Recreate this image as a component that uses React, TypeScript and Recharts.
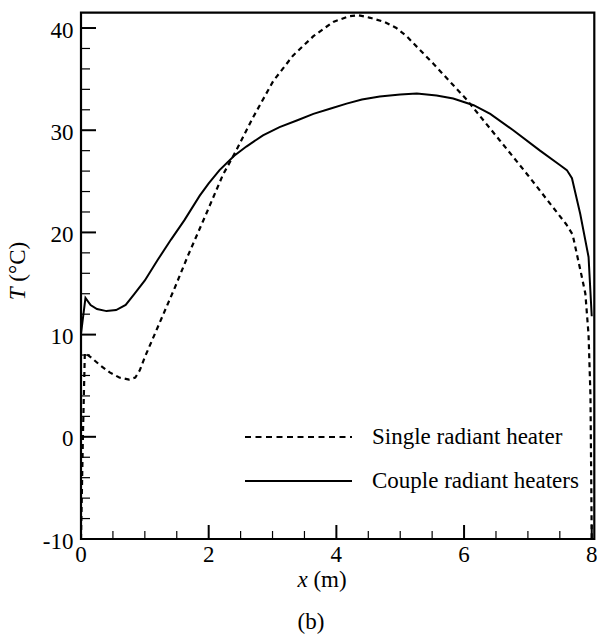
import React from 'react';
import { LineChart, Line, XAxis, YAxis, ReferenceArea } from 'recharts';

const singleX = [0, 0.03, 0.06, 0.15, 0.3, 0.45, 0.6, 0.75, 0.85, 0.92, 1.0, 1.2, 1.47, 1.68, 1.96, 2.22, 2.43, 2.69, 3.01, 3.32, 3.64, 3.95, 4.2, 4.35, 4.53, 4.75, 4.94, 5.1, 5.52, 6.04, 6.56, 7.0, 7.3, 7.6, 7.7, 7.78, 7.85, 7.9, 7.95, 7.98, 8.0];
const singleT = [-10, 0, 8.2, 7.8, 7.0, 6.3, 5.8, 5.6, 5.8, 6.5, 7.8, 10.7, 14.6, 17.8, 21.8, 25.6, 28.0, 31.2, 34.8, 37.3, 39.2, 40.6, 41.15, 41.25, 41.0, 40.6, 40.0, 39.2, 36.5, 33.0, 29.0, 25.6, 23.2, 20.8, 19.8, 17.5, 15.5, 14.0, 10.0, 4.0, -10];

const coupleX = [0, 0.07, 0.15, 0.25, 0.4, 0.55, 0.7, 0.84, 1.0, 1.2, 1.41, 1.62, 1.86, 2.0, 2.17, 2.4, 2.59, 2.85, 3.11, 3.4, 3.64, 3.9, 4.16, 4.4, 4.68, 5.0, 5.26, 5.57, 5.83, 6.15, 6.41, 6.77, 7.19, 7.5, 7.61, 7.69, 7.82, 7.95, 8.0];
const coupleT = [10.1, 13.6, 12.9, 12.5, 12.3, 12.4, 12.9, 14.0, 15.3, 17.3, 19.3, 21.2, 23.6, 24.8, 26.1, 27.5, 28.4, 29.5, 30.3, 31.0, 31.6, 32.1, 32.6, 33.0, 33.3, 33.5, 33.6, 33.4, 33.1, 32.45, 31.6, 30.0, 28.0, 26.6, 26.1, 25.3, 21.8, 17.6, 11.8];

const xTicks = [0, 0.5, 1, 1.5, 2, 2.5, 3, 3.5, 4, 4.5, 5, 5.5, 6, 6.5, 7, 7.5, 8];
const xLabelTicks = [0, 2, 4, 6, 8];
const yTicks = [-10, -8, -6, -4, -2, 0, 2, 4, 6, 8, 10, 12, 14, 16, 18, 20, 22, 24, 26, 28, 30, 32, 34, 36, 38, 40];
const yLabelTicks = [-10, 0, 10, 20, 30, 40];

const seriesNames = ['Single radiant heater', 'Couple radiant heaters'];

const singleData = singleX.map((x, i) => ({ x, T: singleT[i] }));
const coupleData = coupleX.map((x, i) => ({ x, T: coupleT[i] }));

const FONT = '"Liberation Serif", "Times New Roman", serif';
const FS = 23;
const textStyle = { fontFamily: FONT, fontSize: FS, fill: '#000' };

const XTick = (props: any) => {
  const { x, y, payload } = props;
  const v = payload.value;
  const major = xLabelTicks.includes(v);
  return (
    <g>
      {v > 0 && (
        <line x1={x} x2={x} y1={y} y2={y - (major ? 14 : 8)} stroke="#000" strokeWidth={major ? 2 : 1.2} />
      )}
      {major && (
        <text x={x} y={y + 23} textAnchor="middle" style={textStyle}>
          {v}
        </text>
      )}
    </g>
  );
};

const YTick = (props: any) => {
  const { x, y, payload } = props;
  const v = payload.value;
  const major = yLabelTicks.includes(v);
  return (
    <g>
      {v > -10 && (
        <line x1={x} x2={x + (major ? 15 : 9)} y1={y} y2={y} stroke="#000" strokeWidth={major ? 2 : 1.2} />
      )}
      {major && (
        <text x={x - 7.5} y={y + 9.5} textAnchor="end" style={textStyle}>
          {v}
        </text>
      )}
    </g>
  );
};

export default function App() {
  return (
    <div style={{ position: 'absolute', left: 0, top: 0, width: 597, height: 635, background: '#fff', fontFamily: FONT }}>
      <LineChart
        width={597}
        height={635}
        margin={{ top: 12.7, right: 2.7, bottom: 0, left: 0 }}
        style={{ fontFamily: FONT }}
      >
        <XAxis
          dataKey="x"
          type="number"
          domain={[0, 8.04]}
          allowDataOverflow
          ticks={xTicks}
          interval={0}
          height={96}
          tickSize={0}
          tickMargin={0}
          tickLine={false}
          axisLine={false}
          tick={XTick}
        />
        <YAxis
          type="number"
          domain={[-10, 41.5]}
          allowDataOverflow
          ticks={yTicks}
          interval={0}
          width={81}
          tickSize={0}
          tickMargin={0}
          tickLine={false}
          axisLine={false}
          tick={YTick}
        />
        <Line
          data={singleData}
          dataKey="T"
          name={seriesNames[0]}
          type="linear"
          stroke="#000"
          strokeWidth={2.2}
          strokeDasharray="5 4"
          dot={false}
          isAnimationActive={false}
        />
        <Line
          data={coupleData}
          dataKey="T"
          name={seriesNames[1]}
          type="linear"
          stroke="#000"
          strokeWidth={2}
          dot={false}
          isAnimationActive={false}
        />
        <ReferenceArea x1={0} x2={8.04} y1={-10} y2={41.5} fill="none" stroke="#000" strokeWidth={2.2} ifOverflow="visible" />
      </LineChart>
      <svg width={597} height={635} style={{ position: 'absolute', left: 0, top: 0, pointerEvents: 'none' }}>
        <line x1={245} x2={352} y1={437} y2={437} stroke="#000" strokeWidth={2} strokeDasharray="6 4.5" />
        <text x={372} y={444} style={textStyle}>{seriesNames[0]}</text>
        <line x1={245} x2={352} y1={481} y2={481} stroke="#000" strokeWidth={2} />
        <text x={372} y={488} style={textStyle}>{seriesNames[1]}</text>
        <text x={322} y={587} textAnchor="middle" style={textStyle}>
          <tspan fontStyle="italic">x</tspan> (m)
        </text>
        <text x={311} y={629} textAnchor="middle" style={textStyle}>(b)</text>
        <text x={25} y={271} textAnchor="middle" transform="rotate(-90 25 271)" style={textStyle}>
          <tspan fontStyle="italic">T</tspan> (°C)
        </text>
      </svg>
    </div>
  );
}
